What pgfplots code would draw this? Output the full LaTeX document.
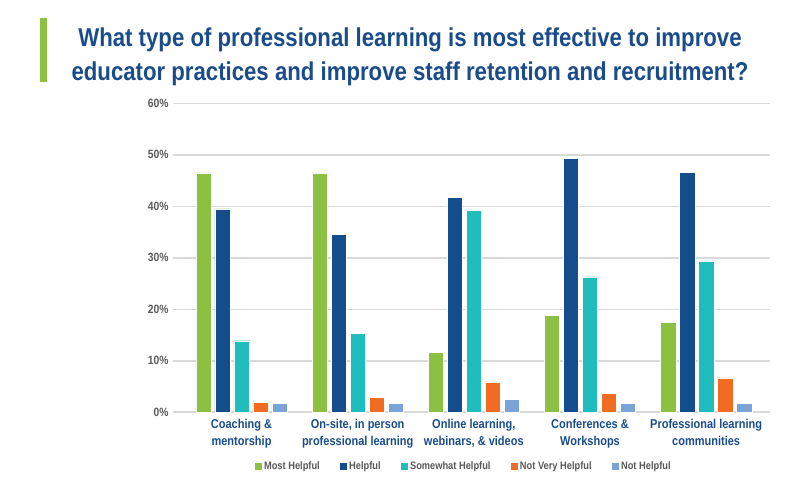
\documentclass[border=0pt]{standalone}
\usepackage{fontspec}
\setmainfont{Liberation Sans}[FakeStretch=0.86]
\usepackage{pgfplots}
\pgfplotsset{compat=1.18}
\definecolor{cgreen}{HTML}{8BC043}
\definecolor{cblue}{HTML}{134D8C}
\definecolor{cteal}{HTML}{20BDBE}
\definecolor{corange}{HTML}{F26B23}
\definecolor{clight}{HTML}{7AA3D6}
\definecolor{ctitle}{HTML}{1A4C8B}
\definecolor{cgrid}{HTML}{D9D9D9}
\definecolor{ctick}{HTML}{595959}
\begin{document}
\begin{tikzpicture}
\useasboundingbox (0pt,0pt) rectangle (800pt,480pt);
\fill[cgreen] (40pt,398pt) rectangle (47pt,462pt);
\node[font=\bfseries\fontsize{25.8}{34}\selectfont, text=ctitle, align=center] at (410pt,423pt)
  {What type of professional learning is most effective to improve\\educator practices and improve staff retention and recruitment?};
\begin{axis}[
  at={(173pt,67.7pt)}, anchor=south west, scale only axis,
  width=597pt, height=309pt,
  ybar=3.7pt, bar width=15.3pt,
  xmin=-0.59, xmax=4.55, ymin=0, ymax=60,
  xtick={0,1,2,3,4},
  xticklabels={Coaching \&\\mentorship, {On-site, in person\\professional learning}, {Online learning,\\webinars, \& videos}, Conferences \&\\Workshops, Professional learning\\communities},
  xticklabel style={font=\bfseries\fontsize{12.8}{17}\selectfont, text=ctitle, align=center, yshift=-3pt},
  ytick={0,10,...,60},
  yticklabel={\pgfmathprintnumber{\tick}\%},
  yticklabel style={font=\bfseries\fontsize{12}{14}\selectfont, text=ctick, xshift=-1pt},
  /pgf/number format/assume math mode=true,
  ymajorgrids, grid style={cgrid, line width=1.5pt},
  axis x line*=bottom, axis y line*=left,
  x axis line style={cgrid, line width=2pt},
  y axis line style={draw=none},
  major tick length=0pt,
  legend style={at={(0.486,-0.175)}, anchor=center, draw=none, legend columns=5,
    font=\bfseries\fontsize{10.8}{12}\selectfont, text=ctick,
    /tikz/every even column/.append style={column sep=17pt}},
  legend image code/.code={\fill[#1] (0pt,-4pt) rectangle (8pt,4pt);},
]
\addplot[fill=cgreen, draw=white, line width=0.4pt] coordinates {(0,46.5) (1,46.5) (2,11.7) (3,18.8) (4,17.4)};
\addplot[fill=cblue, draw=white, line width=0.4pt] coordinates {(0,39.5) (1,34.5) (2,41.7) (3,49.3) (4,46.6)};
\addplot[fill=cteal, draw=white, line width=0.4pt] coordinates {(0,13.9) (1,15.3) (2,39.3) (3,26.3) (4,29.4)};
\addplot[fill=corange, draw=white, line width=0.4pt] coordinates {(0,1.9) (1,2.9) (2,5.9) (3,3.7) (4,6.7)};
\addplot[fill=clight, draw=white, line width=0.4pt] coordinates {(0,1.7) (1,1.7) (2,2.5) (3,1.7) (4,1.7)};
\legend{Most Helpful, Helpful, Somewhat Helpful, Not Very Helpful, Not Helpful}
\end{axis}
\end{tikzpicture}
\end{document}
